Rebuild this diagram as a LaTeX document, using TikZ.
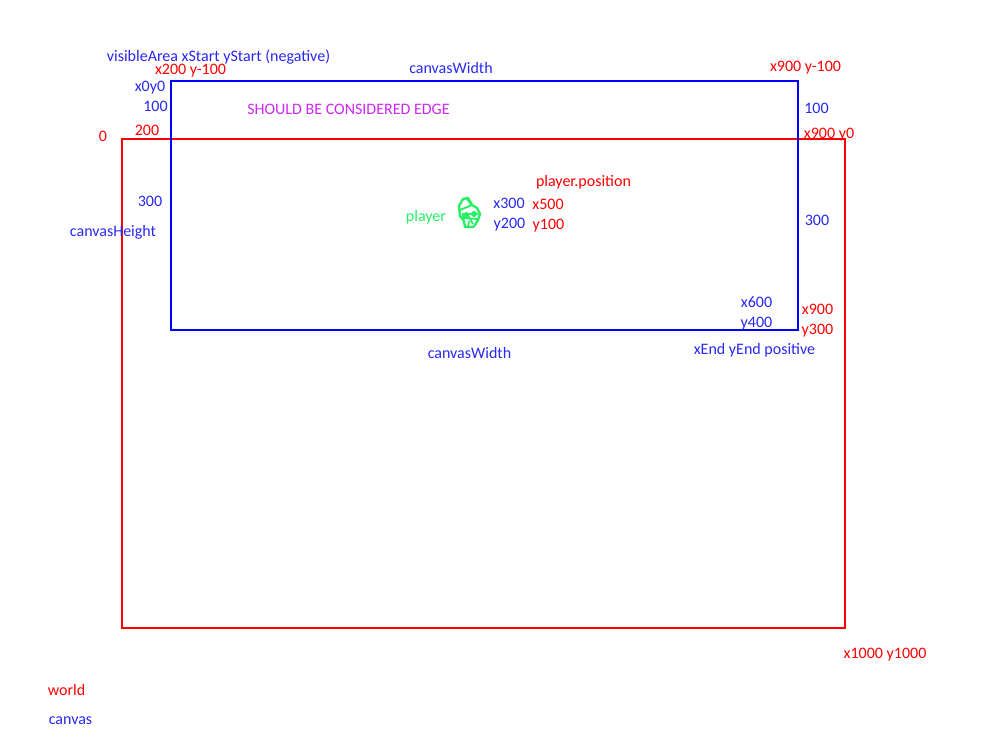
\documentclass[tikz,border=0pt]{standalone}
\usepackage{fontspec}
\setmainfont{Carlito}
\definecolor{worldred}{RGB}{255,0,0}
\definecolor{canvasblue}{RGB}{0,0,255}
\definecolor{labelblue}{RGB}{40,40,240}
\definecolor{edgepurple}{RGB}{204,40,240}
\definecolor{playergreen}{RGB}{40,240,100}
\begin{document}
\begin{tikzpicture}[x=0.75pt,y=-0.75pt,every node/.style={inner sep=0pt,font=\fontsize{12}{14}\selectfont},red label/.style={text=worldred},blue label/.style={text=labelblue},box/.style={line width=1.5pt}]
\useasboundingbox (0,0) rectangle (1000,750);
\draw[box,worldred] (122,139) rectangle (845,628);
\draw[box,canvasblue] (171,81) rectangle (798,330);
\node[blue label] (visibleArea) at (218.5,57) {visibleArea xStart yStart (negative)};
\node[red label] (topLeft) at (190.5,71) {x200 y-100};
\node[blue label] (topWidth) at (451,68) {canvasWidth};
\node[red label] (topRight) at (805.5,68) {x900 y-100};
\node[blue label] (origin) at (150,88) {x0y0};
\node[blue label] (leftHundred) at (155.5,106) {100};
\node[blue label] (rightHundred) at (816.5,108) {100};
\node[text=edgepurple] (edge) at (348.5,109) {SHOULD BE CONSIDERED EDGE};
\node[red label] (worldTwoHundred) at (147,130) {200};
\node[red label] (worldZero) at (103,136) {0};
\node[red label] (rightZero) at (829,135) {x900 y0};
\node[red label] (position) at (583.5,182) {player.position};
\node[blue label] (leftThreeHundred) at (150,201) {300};
\node[blue label] (rightThreeHundred) at (817,220) {300};
\node[blue label] (height) at (113,232) {canvasHeight};
\node[text=playergreen] (player) at (426,217) {player};
\node[blue label] (playerX) at (509,203) {x300};
\node[blue label] (playerY) at (509.5,225) {y200};
\node[red label] (worldX) at (548,204) {x500};
\node[red label] (worldY) at (548.5,226) {y100};
\node[blue label] (endX) at (756.5,302) {x600};
\node[blue label] (endY) at (756.5,324) {y400};
\node[red label] (rightX) at (817.5,309) {x900};
\node[red label] (rightY) at (817.5,331) {y300};
\node[blue label] (bottomWidth) at (469.5,353) {canvasWidth};
\node[blue label] (endLabel) at (754.5,350) {xEnd yEnd positive};
\node[red label] (worldEnd) at (885,655) {x1000 y1000};
\node[red label] (world) at (66.5,690) {world};
\node[blue label] (canvas) at (70.5,721) {canvas};
% player sketch
\draw[playergreen,line width=1.8pt,line join=round] (463,199) -- (468,198) -- (472,205) -- (477,208) -- (480,214) -- (478,220) -- (475,225) -- (473,227) -- (465,227) -- (464,221) -- (460,216) -- (459,206) -- cycle;
\draw[playergreen,line width=1.4pt] (460,210) -- (472,205) -- (467,199) (462,214) -- (478,214) (462,218) -- (478,219) (466,212) -- (473,224) (469,221) -- (468,227);
\fill[playergreen] (465,216) circle (3) (474,214) circle (3);
\end{tikzpicture}
\end{document}
